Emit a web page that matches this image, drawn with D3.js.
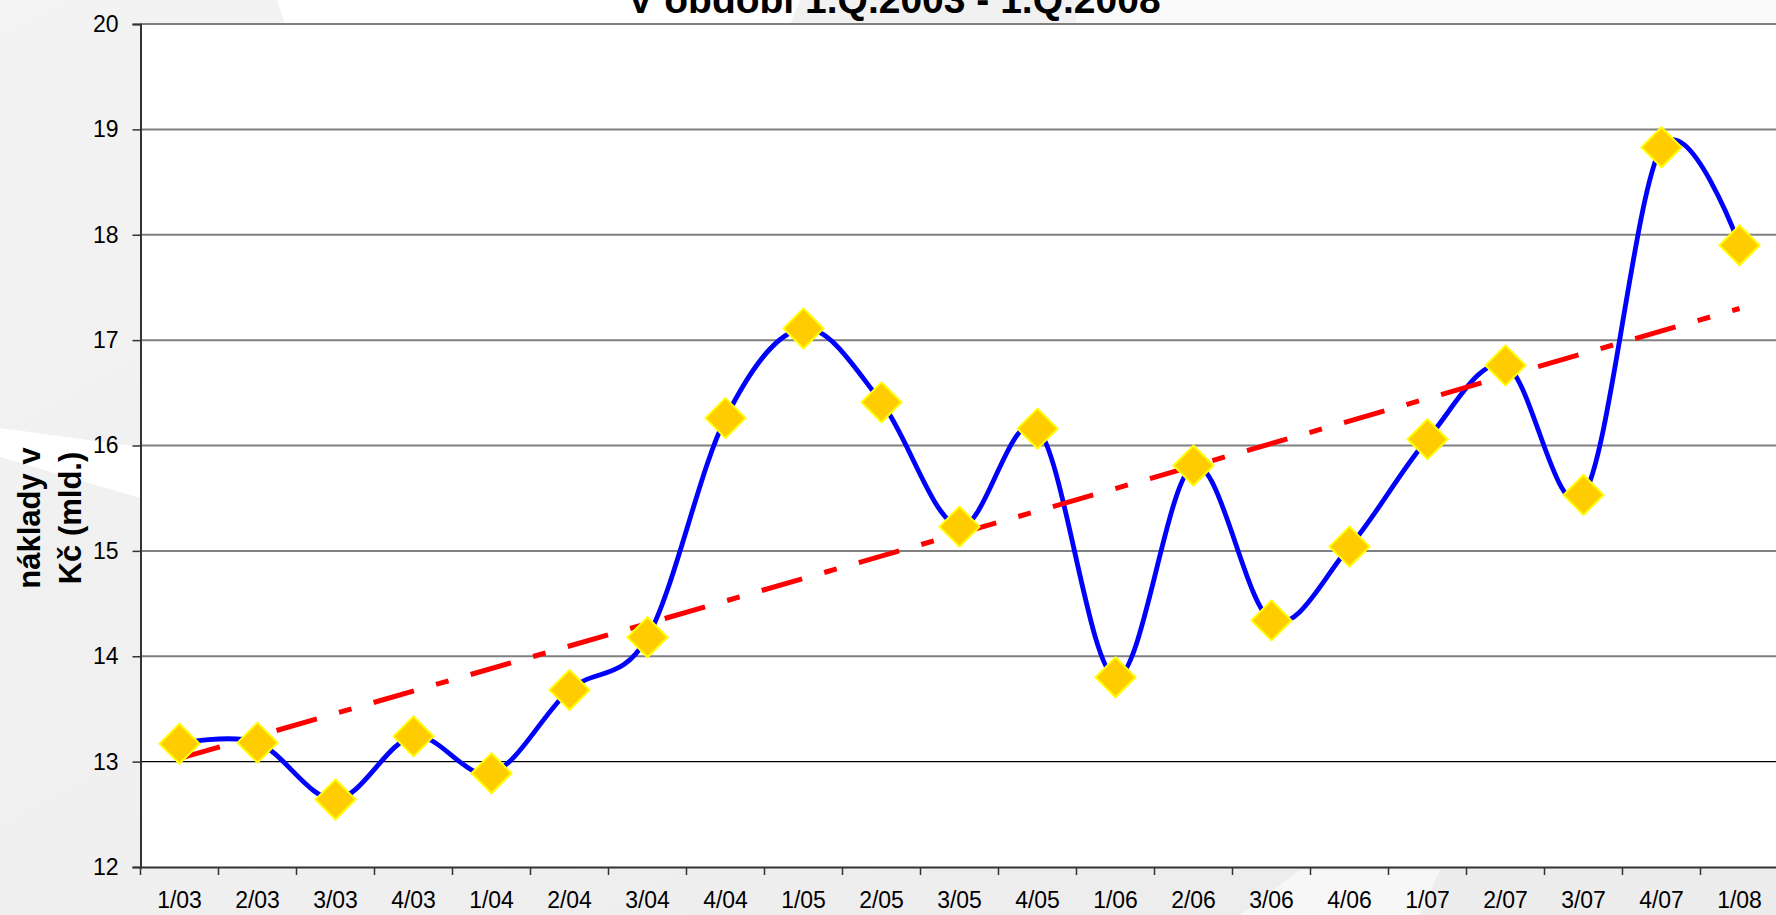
<!DOCTYPE html>
<meta charset="utf-8">
<style>
  body { margin: 0; background: #f1f1f1; }
  text { font-family: Arial, "Liberation Sans", sans-serif; }
</style>
<script src="https://d3js.org/d3.v7.min.js"></script>
<div id="my_dataviz"></div>
<script>

// quarters and values (mld. Kč)
var quarters = ["1/03","2/03","3/03","4/03","1/04","2/04","3/04","4/04","1/05","2/05","3/05",
                "4/05","1/06","2/06","3/06","4/06","1/07","2/07","3/07","4/07","1/08"];
var costs = [13.17, 13.18, 12.64, 13.24, 12.89, 13.68, 14.18, 16.26, 17.11, 16.41, 15.23,
             16.16, 13.80, 15.81, 14.34, 15.04, 16.06, 16.76, 15.53, 18.83, 17.90];
// linear trend, value at first and last quarter
var trendEnds = [13.03, 17.30];
var yTicks = [12, 13, 14, 15, 16, 17, 18, 19, 20];

var W = 1776, H = 915;
var margin = {top: 24, left: 140.5, bottom: 48},
    width = 78 * quarters.length,
    height = H - margin.top - margin.bottom;

var root = d3.select("#my_dataviz")
  .append("svg")
    .attr("width", W)
    .attr("height", H);

// background swooshes
var defs = root.append("defs");
var grad = defs.append("linearGradient").attr("id", "bg").attr("x1", 0).attr("y1", 0).attr("x2", 1).attr("y2", 1);
grad.append("stop").attr("offset", "0%").attr("stop-color", "#f3f3f3");
grad.append("stop").attr("offset", "100%").attr("stop-color", "#ececec");
root.append("rect").attr("width", W).attr("height", H).attr("fill", "url(#bg)");
root.append("path").attr("d", "M0,428 L140,447 L140,498 L0,457 Z").attr("fill", "#ffffff");
root.append("path").attr("d", "M277,0 L800,0 L790,24 L285,24 Z").attr("fill", "#ffffff");
root.append("path").attr("d", "M1080,0 L1776,0 L1776,24 L1075,24 Z").attr("fill", "#fafafa");
root.append("path").attr("d", "M1240,915 L1300,870 L1440,870 L1420,915 Z").attr("fill", "#f7f7f7");

var svg = root.append("g")
  .attr("transform", "translate(" + margin.left + "," + margin.top + ")");

var x = d3.scaleBand()
  .domain(quarters)
  .range([0, width])
  .padding(0);

var y = d3.scaleLinear()
  .domain([12, 20])
  .range([height, 0]);

// plot area
svg.append("rect")
  .attr("width", width)
  .attr("height", height)
  .attr("fill", "#ffffff");

// gridlines
svg.append("g")
  .selectAll("line")
  .data(yTicks.filter(function(d) { return d > 12; }))
  .enter()
  .append("line")
    .attr("x1", 0)
    .attr("x2", width)
    .attr("y1", function(d) { return y(d); })
    .attr("y2", function(d) { return y(d); })
    .style("stroke", function(d) { return d == 13 ? "#000000" : "#808080"; })
    .style("stroke-width", function(d) { return d == 13 ? 1.2 : 2; });

// y axis
var yAxis = svg.append("g")
  .call(d3.axisLeft(y).tickValues(yTicks).tickSize(8).tickPadding(14));
yAxis.select(".domain").style("stroke", "#333").style("stroke-width", 2);
yAxis.selectAll(".tick line").style("stroke", "#333").style("stroke-width", 1.5);
yAxis.selectAll("text")
  .style("font-size", "23px")
  .style("fill", "#000");

// x axis: ticks at the band edges, labels in the middle
var xAxis = svg.append("g")
  .attr("transform", "translate(0," + height + ")")
  .call(d3.axisBottom(x).tickSize(0).tickPadding(25));
xAxis.select(".domain").style("stroke", "#333").style("stroke-width", 2);
xAxis.selectAll("text")
  .style("font-size", "23px")
  .style("fill", "#000");
xAxis.selectAll(".edge")
  .data(quarters)
  .enter()
  .append("line")
    .attr("class", "edge")
    .attr("x1", function(d) { return x(d); })
    .attr("x2", function(d) { return x(d); })
    .attr("y1", 0)
    .attr("y2", 8)
    .style("stroke", "#333")
    .style("stroke-width", 1.5);

var cx = function(d, i) { return x(quarters[i]) + x.bandwidth() / 2; };

// smoothed blue line
var line = d3.line()
  .x(function(d, i) { return cx(d, i); })
  .y(function(d) { return y(d); })
  .curve(d3.curveCardinal.tension(0));

svg.append("path")
  .datum(costs)
  .attr("fill", "none")
  .attr("stroke", "#0000ff")
  .attr("stroke-width", 4.8)
  .attr("stroke-linejoin", "round")
  .attr("d", line);

// red trend line
svg.append("line")
  .attr("x1", x(quarters[0]) + x.bandwidth() / 2)
  .attr("x2", x(quarters[quarters.length - 1]) + x.bandwidth() / 2)
  .attr("y1", y(trendEnds[0]))
  .attr("y2", y(trendEnds[1]))
  .attr("stroke", "#ff0000")
  .attr("stroke-width", 5)
  .attr("stroke-dasharray", "42,23,13,23");

// diamonds
svg.selectAll(".pt")
  .data(costs)
  .enter()
  .append("path")
    .attr("class", "pt")
    .attr("transform", function(d, i) { return "translate(" + cx(d, i) + "," + y(d) + ")"; })
    .attr("d", "M0,-20 L20,0 L0,20 L-20,0 Z")
    .attr("fill", "#ffcc00")
    .attr("stroke", "#ffff00")
    .attr("stroke-width", 2);

// title (second line only is visible)
root.append("text")
  .attr("x", 894)
  .attr("y", 13)
  .attr("text-anchor", "middle")
  .style("font-size", "39px")
  .style("font-weight", "bold")
  .text("V období 1.Q.2003 - 1.Q.2008");

// y axis title
var ylab = root.append("text")
  .attr("transform", "translate(0,518) rotate(-90)")
  .attr("text-anchor", "middle")
  .style("font-size", "31px")
  .style("font-weight", "bold");
ylab.append("tspan").attr("x", 0).attr("y", 40).text("náklady v");
ylab.append("tspan").attr("x", 0).attr("y", 81).text("Kč (mld.)");

</script>
